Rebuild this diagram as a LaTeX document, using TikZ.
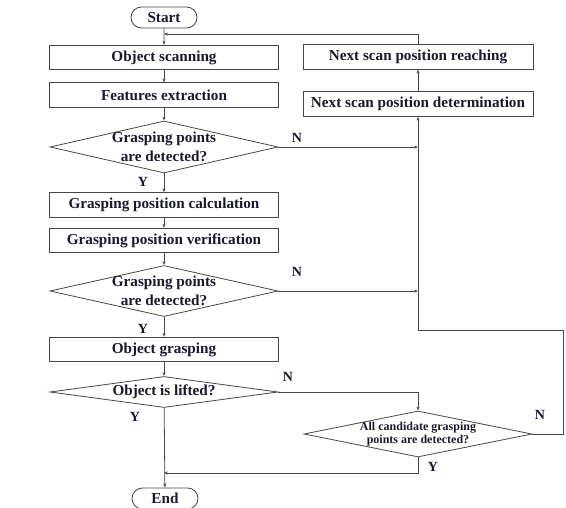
\documentclass[tikz,border=0pt]{standalone}
\usepackage{fontspec}
\setmainfont{Liberation Serif}
\usetikzlibrary{shapes.geometric,shapes.misc,arrows.meta}
\definecolor{ln}{RGB}{70,70,70}
\definecolor{tx}{RGB}{25,25,45}
\begin{document}
\begin{tikzpicture}[x=1pt,y=-1pt,
  font=\bfseries\fontsize{15.2}{17}\selectfont,
  every node/.style={text=tx},
  procbox/.style={draw=ln,line width=0.8pt,rectangle,minimum width=229pt,minimum height=24.5pt,inner sep=0pt},
  termbox/.style={draw=ln,line width=0.8pt,rounded rectangle,minimum width=66pt,minimum height=21pt,inner sep=0pt},
  decbox/.style={draw=ln,line width=0.8pt,diamond,inner sep=0pt,minimum width=228pt},
  yn/.style={font=\bfseries\fontsize{14}{15}\selectfont},
  conn/.style={draw=ln,line width=0.8pt,-{Stealth[length=4pt,width=3pt]}},
  plain/.style={draw=ln,line width=0.8pt}]
\useasboundingbox (0,0) rectangle (566,508);
% terminals
\node[termbox] (start) at (164,17.5) {Start};
\node[termbox] (end) at (165,498.5) {End};
% main column
\node[procbox] (scan) at (164,57.5) {Object scanning};
\node[procbox] (feat) at (164,95) {Features extraction};
\node[decbox,minimum height=52pt] (d1) at (164,147) {};
\node[align=center,font=\bfseries\fontsize{15.2}{19}\selectfont] (t1) at (164,147) {Grasping points\\are detected?};
\node[procbox] (calc) at (164,205) {Grasping position calculation};
\node[procbox] (verif) at (164,240.5) {Grasping position verification};
\node[decbox,minimum height=51pt] (d2) at (164,291) {};
\node[align=center,font=\bfseries\fontsize{15.2}{19}\selectfont] (t2) at (164,291) {Grasping points\\are detected?};
\node[procbox] (grasp) at (164,349.5) {Object grasping};
\node[decbox,minimum height=31pt] (d3) at (164,392) {};
\node (t3) at (164,392) {Object is lifted?};
% right column
\node[procbox,minimum width=230pt] (reach) at (418,57) {Next scan position reaching};
\node[procbox,minimum width=230pt] (determ) at (418,104) {Next scan position determination};
\node[decbox,minimum height=46pt] (d4) at (418,434) {};
\node[align=center,font=\bfseries\fontsize{12}{13}\selectfont] (t4) at (418,434.5) {All candidate grasping\\points are detected?};
% helper coordinates
\coordinate (jtop) at (164,34);
\coordinate (rtop) at (418,34);
\coordinate (m1) at (418,147);
\coordinate (m2) at (418,291);
\coordinate (m3) at (418,392);
\coordinate (loopt) at (418,330);
\coordinate (loopr) at (563,330);
\coordinate (d4r) at (563,434);
\coordinate (d4b) at (418,473);
\coordinate (jend) at (164,473);
% connectors
\draw[conn] (start) -- (scan);
\draw[conn] (scan) -- (feat);
\draw[conn] (feat) -- (d1);
\draw[conn] (d1) -- (calc);
\draw[conn] (calc) -- (verif);
\draw[conn] (verif) -- (d2);
\draw[conn] (d2) -- (grasp);
\draw[conn] (grasp) -- (d3);
\draw[conn] (d3) -- (end);
\draw[conn] (d1.east) -- (m1);
\draw[conn] (d2.east) -- (m2);
\draw[conn] (d3.east) -- (m3) -- (d4.north);
\draw[conn] (d4.east) -- (d4r) -- (loopr) -- (loopt) -- (determ.south);
\draw[conn] (determ) -- (reach);
\draw[conn] (reach.north) -- (rtop) -- (jtop);
\draw[conn] (d4.south) -- (d4b) -- (jend);
% labels
\node[yn] at (297,138) {N};
\node[yn] at (297,272) {N};
\node[yn] at (288,377) {N};
\node[yn] at (540,415) {N};
\node[yn] at (143,182) {Y};
\node[yn] at (143,329) {Y};
\node[yn] at (135,417) {Y};
\node[yn] at (433,467) {Y};
\end{tikzpicture}
\end{document}
